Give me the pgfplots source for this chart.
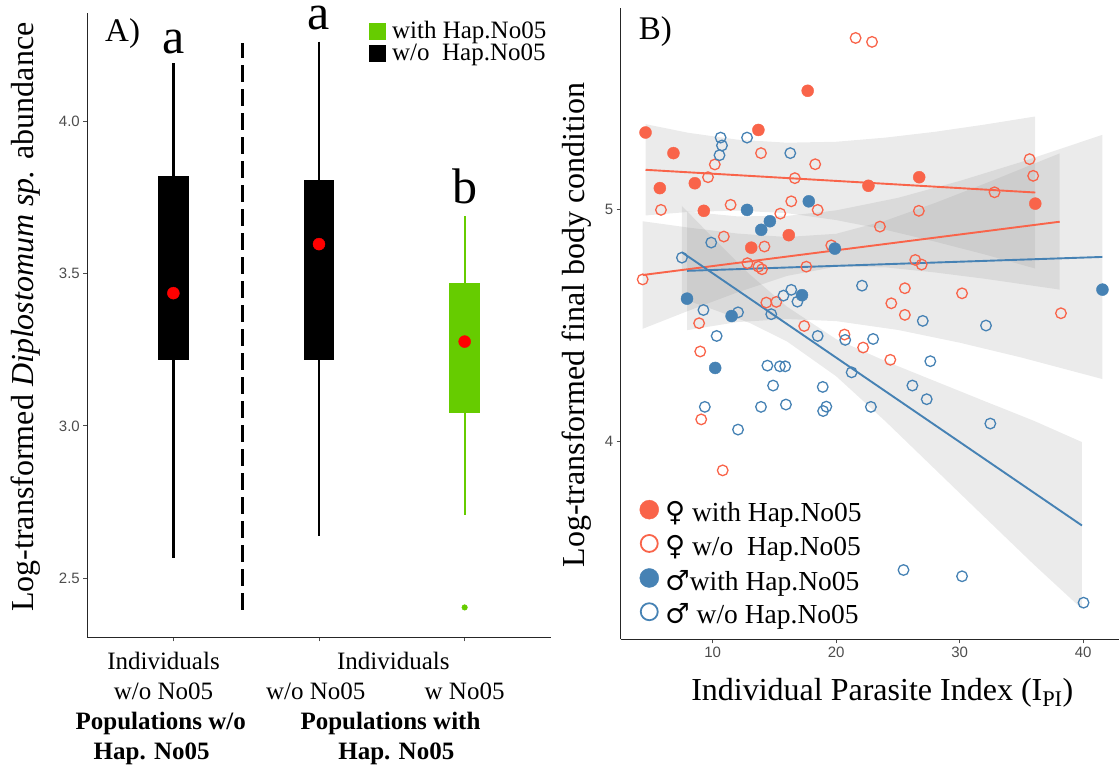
\documentclass[border=0pt]{standalone}
\usepackage{fontspec}
\setmainfont{Liberation Serif}
\setsansfont{Liberation Sans}
\newfontfamily\symfont{DejaVu Serif}
\usepackage{pgfplots}
\usepgfplotslibrary{statistics}
\pgfplotsset{compat=1.18}
\definecolor{hapgreen}{HTML}{66CC00}
\definecolor{femred}{HTML}{F9644A}
\definecolor{malblue}{HTML}{4682B4}
\definecolor{ticklab}{HTML}{4D4D4D}

\pgfplotsset{
  ggaxis/.style={scale only axis, clip=false,
    axis x line*=bottom, axis y line*=left,
    axis line style={-, black!85, line width=1.2pt},
    tick align=outside, major tick length=4pt,
    tick style={ticklab, line width=1pt},
    tick label style={font=\sffamily\fontsize{15}{15}\selectfont, text=ticklab},
    /pgf/number format/assume math mode=true,
    label style={font=\fontsize{32}{36}\selectfont},
    legend cell align=left},
  band/.style={fill=black!40, fill opacity=0.2, draw=none, forget plot},
  fit/.style={line width=1.9pt, forget plot},
  markleg/.style={legend image code/.code={\draw[##1] plot coordinates {(10pt,0.3em)}; \path (0pt,0pt) (24pt,0pt);}},
  sqleg/.style={legend image code/.code={\fill[#1] (0pt,-8pt) rectangle (16pt,8pt); \path (22pt,0pt);}},
  box/.style={forget plot, boxplot/draw direction=y},
}

\begin{document}
\begin{tikzpicture}
\useasboundingbox (0pt,0pt) rectangle (1119pt,767pt);

% ---- A) boxplots
\begin{axis}[ggaxis, at={(87.3pt,129.7pt)}, anchor=south west,
  width=463.7pt, height=624pt,
  xmin=0.409, xmax=3.593, ymin=2.306, ymax=4.355,
  xtick={1,2,3}, xticklabels={,,},
  ytick={2.5,3,3.5,4},
  yticklabel style={/pgf/number format/.cd, fixed, fixed zerofill, precision=1},
  ylabel={Log-transformed \textit{Diplostomum sp.} abundance},
  ylabel style={at={(axis description cs:-0.132,0.513)}, anchor=center},
  legend style={at={(axis description cs:0.600,0.992)}, anchor=north west,
    draw=none, fill=none, font=\fontsize{25}{26}\selectfont,
    nodes={inner sep=1pt}, row sep=2pt}]
\addlegendimage{sqleg=hapgreen}
\addlegendentry{with Hap.No05}
\addlegendimage{sqleg=black}
\addlegendentry{w/o\ \ Hap.No05}

\addplot[box, draw=black, fill=black, line width=2.5pt,
  boxplot prepared={lower whisker=2.566, lower quartile=3.219, median=3.5,
    upper quartile=3.816, upper whisker=4.191, draw position=1,
    box extend=0.195, whisker extend=0}] coordinates {};
\addplot[box, draw=black, fill=black, line width=2.5pt,
  boxplot prepared={lower whisker=2.640, lower quartile=3.219, median=3.5,
    upper quartile=3.802, upper whisker=4.262, draw position=2,
    box extend=0.195, whisker extend=0}] coordinates {};
\addplot[box, draw=hapgreen, fill=hapgreen, line width=1.8pt,
  boxplot prepared={lower whisker=2.709, lower quartile=3.044, median=3.25,
    upper quartile=3.466, upper whisker=3.689, draw position=3,
    box extend=0.2, whisker extend=0}] coordinates {};
\addplot[forget plot, only marks, mark=*, mark size=2.8pt, color=hapgreen] coordinates {(3,2.404)};
\addplot[forget plot, only marks, mark=*, mark size=6pt, color=red] coordinates {(1,3.436) (2,3.597) (3,3.277)};
\addplot[forget plot, black, line width=2.3pt, dash pattern=on 17pt off 7pt] coordinates {(1.474,2.396) (1.474,4.258)};
\end{axis}

% ---- B) scatter with fits
\begin{axis}[ggaxis, at={(620.7pt,127.7pt)}, anchor=south west,
  width=498.3pt, height=631pt,
  xmin=2.55, xmax=42.9, ymin=3.147, ymax=5.87,
  xtick={10,20,30,40}, ytick={4,5},
  xlabel={Individual Parasite Index (I\textsubscript{PI})},
  xlabel style={at={(axis description cs:0.525,-0.085)}, anchor=center},
  ylabel={Log-transformed final body condition},
  ylabel style={at={(axis description cs:-0.0877,0.498)}, anchor=center},
  legend style={at={(axis description cs:0.029,0.224)}, anchor=north west,
    draw=none, fill=none, font=\fontsize{27.5}{30}\selectfont,
    nodes={inner sep=1pt}, row sep=10.2pt}]
\addlegendimage{markleg, only marks, mark=*, mark size=9.5pt, color=femred}
\addlegendentry{{\symfont ♀} with Hap.No05}
\addlegendimage{markleg, only marks, mark=o, mark size=8.5pt, line width=1.8pt, color=femred}
\addlegendentry{{\symfont ♀} w/o\ \ Hap.No05}
\addlegendimage{markleg, only marks, mark=*, mark size=9.5pt, color=malblue}
\addlegendentry{{\symfont ♂}with Hap.No05}
\addlegendimage{markleg, only marks, mark=o, mark size=8.5pt, line width=1.8pt, color=malblue}
\addlegendentry{{\symfont ♂} w/o Hap.No05}

% confidence bands
\addplot[band] coordinates {(4.56,5.370) (8,5.333) (12,5.303) (16,5.290) (20,5.294) (24,5.312) (28,5.337) (32,5.368) (36.1,5.403)
  (36.1,4.747) (32,4.808) (28,4.863) (24,4.914) (20,4.956) (16,4.986) (12,4.997) (8,4.991) (4.56,4.976)};
\addplot[band] coordinates {(4.33,4.951) (8,4.924) (12,4.898) (16,4.883) (20,4.897) (24,4.954) (28,5.030) (32,5.113) (38.1,5.244)
  (38.1,4.656) (32,4.703) (28,4.730) (24,4.752) (20,4.755) (16,4.715) (12,4.644) (8,4.564) (4.33,4.487)};
\addplot[band] coordinates {(7.92,4.993) (12,4.972) (16,4.974) (20,4.998) (25,5.052) (30,5.125) (35,5.207) (41.56,5.324)
  (41.56,4.270) (35,4.363) (30,4.427) (25,4.482) (20,4.520) (16,4.529) (12,4.516) (7.92,4.481)};
\addplot[band] coordinates {(7.51,5.017) (10,4.881) (13,4.722) (16,4.583) (20,4.442) (24,4.347) (28,4.261) (32,4.175) (36,4.090) (39.9,3.998)
  (39.9,3.278) (36,3.470) (32,3.675) (28,3.881) (24,4.087) (20,4.282) (16,4.433) (13,4.512) (10,4.571) (7.51,4.617)};

% points
\addplot[forget plot, only marks, mark=*, mark size=6pt, color=femred] coordinates {
(4.56,5.334) (6.82,5.245) (5.72,5.094) (8.55,5.115) (9.28,4.996) (13.70,5.345)
(13.12,4.837) (16.16,4.891) (17.69,5.514) (22.61,5.104) (26.72,5.141) (36.12,5.027)};
\addplot[forget plot, only marks, mark=o, mark size=5.3pt, line width=1.3pt, color=femred] coordinates {
(21.57,5.742) (22.90,5.725) (13.91,5.245) (10.17,5.196) (9.62,5.141) (16.65,5.137)
(18.30,5.197) (35.66,5.219) (35.95,5.147) (32.82,5.076) (5.81,5.000) (11.45,5.022)
(16.36,5.037) (18.50,5.000) (15.47,4.984) (26.69,4.996) (23.54,4.928) (10.90,4.885)
(14.19,4.842) (19.60,4.847) (4.33,4.700) (12.81,4.770) (13.70,4.755) (13.99,4.744)
(17.58,4.755) (26.40,4.784) (26.92,4.764) (25.56,4.662) (24.46,4.597) (25.56,4.547)
(30.19,4.640) (38.20,4.554) (14.34,4.600) (15.15,4.603) (8.90,4.511) (17.41,4.499)
(20.67,4.462) (22.18,4.406) (24.38,4.353) (8.99,4.389) (9.07,4.096) (10.81,3.876)};
\addplot[forget plot, only marks, mark=*, mark size=6pt, color=malblue] coordinates {
(17.78,5.037) (12.78,5.000) (14.63,4.951) (13.93,4.914) (19.89,4.833) (7.92,4.617)
(17.23,4.632) (11.53,4.542) (41.56,4.656) (10.20,4.318)};
\addplot[forget plot, only marks, mark=o, mark size=5.3pt, line width=1.3pt, color=malblue] coordinates {
(10.64,5.312) (10.75,5.278) (10.55,5.236) (12.78,5.312) (16.28,5.245) (9.88,4.859)
(7.51,4.794) (22.09,4.673) (16.36,4.655) (15.73,4.630) (16.86,4.604) (9.25,4.568)
(12.05,4.558) (14.74,4.550) (27.01,4.521) (32.13,4.501) (10.32,4.456) (18.50,4.456)
(20.73,4.439) (22.99,4.443) (27.62,4.347) (14.43,4.328) (15.44,4.325) (15.87,4.325)
(21.25,4.299) (14.89,4.242) (18.91,4.236) (26.17,4.242) (27.33,4.183) (9.36,4.150)
(13.91,4.150) (15.93,4.160) (19.20,4.151) (18.94,4.132) (22.81,4.150) (32.48,4.078)
(12.05,4.052) (25.45,3.446) (30.19,3.419) (40.03,3.305)};

% fitted lines
\addplot[fit, color=femred] coordinates {(4.56,5.173) (36.12,5.075)};
\addplot[fit, color=femred] coordinates {(4.33,4.719) (38.1,4.949)};
\addplot[fit, color=malblue] coordinates {(7.92,4.737) (41.56,4.797)};
\addplot[fit, color=malblue] coordinates {(7.51,4.817) (39.9,3.638)};
\end{axis}

% category labels and annotations
\begin{scope}[every node/.style={font=\fontsize{25}{25}\selectfont, anchor=base}]
\node at (163.5pt,97.7pt) {Individuals};
\node at (163.5pt,67.7pt) {w/o No05};
\node at (393.4pt,97.7pt) {Individuals};
\node at (315.7pt,67.7pt) {w/o No05};
\node at (464.6pt,67.7pt) {w No05};
\node at (160.7pt,37pt) {\bfseries Populations w/o};
\node at (151.7pt,7pt) {\bfseries Hap. No05};
\node at (390.5pt,37pt) {\bfseries Populations with};
\node at (396.3pt,7pt) {\bfseries Hap. No05};
\end{scope}
\begin{scope}[every node/.style={font=\fontsize{50}{50}\selectfont, anchor=base, inner sep=0pt}]
\node at (173.3pt,713.7pt) {a};
\node at (318.6pt,737.7pt) {a};
\node at (464.6pt,563.7pt) {b};
\end{scope}
\node[font=\fontsize{33}{33}\selectfont, anchor=base west, inner sep=0pt] at (105pt,725.3pt) {A)};
\node[font=\fontsize{33}{33}\selectfont, anchor=base west, inner sep=0pt] at (638.6pt,727pt) {B)};
\end{tikzpicture}
\end{document}
